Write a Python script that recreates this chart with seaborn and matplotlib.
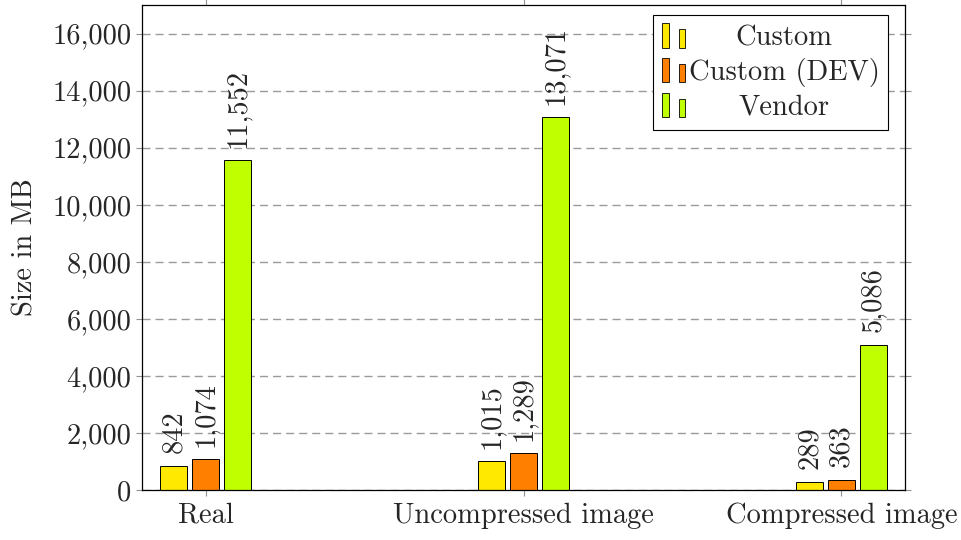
import matplotlib
matplotlib.use("Agg")
import matplotlib.pyplot as plt
from matplotlib.patches import Rectangle
from matplotlib.legend_handler import HandlerBase
from matplotlib.ticker import StrMethodFormatter, MultipleLocator
from matplotlib.transforms import Affine2D
import seaborn as sns
import pandas as pd

categories = ["Real", "Uncompressed image", "Compressed image"]
series_names = ["Custom", "Custom (DEV)", "Vendor"]
custom = [842, 1015, 289]
custom_dev = [1074, 1289, 363]
vendor = [11552, 13071, 5086]
colors = ["#FFE900", "#FF7F00", "#BFFF00"]

rows = []
for name, vals in zip(series_names, [custom, custom_dev, vendor]):
    for c, v in zip(categories, vals):
        rows.append({"category": c, "system": name, "size": v})
df = pd.DataFrame(rows)

sns.set_theme(style="ticks")
plt.rcParams["font.family"] = ["cmr10", "DejaVu Serif"]
plt.rcParams["axes.unicode_minus"] = False
plt.rcParams["axes.formatter.use_mathtext"] = True

FS = 20.5
fig = plt.figure(figsize=(9.61, 5.40), dpi=100)
ax = fig.add_axes([142 / 961, 1 - 490 / 540, (905 - 142) / 961, (490 - 5) / 540])

sns.barplot(data=df, x="category", y="size", hue="system", order=categories,
            hue_order=series_names, palette=colors, width=0.3, gap=0.15,
            edgecolor="black", linewidth=0.7, ax=ax, legend=True, saturation=1)

for cont in ax.containers:
    ax.bar_label(cont, labels=[f"{v:,.0f}" for v in cont.datavalues],
                 rotation=90, padding=9, fontsize=FS)

ax.set_xlim(-0.2, 2.2)
ax.set_ylim(0, 17000)
ax.yaxis.set_major_locator(MultipleLocator(2000))
ax.yaxis.set_major_formatter(StrMethodFormatter("{x:,.0f}"))
ax.set_xlabel("")
ax.set_ylabel("Size in MB", fontsize=FS, labelpad=10)
ax.yaxis.grid(True, linestyle=(0, (5.8, 3.6)), color="#9a9a9a", linewidth=1.0)
ax.set_axisbelow(True)
ax.tick_params(axis="both", labelsize=FS, direction="out", length=4,
               color="#909090", width=0.8)
ax.tick_params(axis="x", pad=5)
ax.tick_params(top=True, right=True)
for s in ax.spines.values():
    s.set_visible(True)
    s.set_color("black")
    s.set_linewidth(0.9)


class TwoBarHandler(HandlerBase):
    def create_artists(self, legend, orig_handle, xdescent, ydescent,
                       width, height, fontsize, trans):
        fc = orig_handle.get_facecolor()
        w = width * 0.29
        r1 = Rectangle((-xdescent, -ydescent), w, height, facecolor=fc,
                       edgecolor="black", linewidth=0.6, transform=trans)
        r2 = Rectangle((-xdescent + width * 0.71, -ydescent), w, height * 0.75,
                       facecolor=fc, edgecolor="black", linewidth=0.6, transform=trans)
        return [r1, r2]


handles, labels = ax.get_legend_handles_labels()
if ax.get_legend() is not None:
    ax.get_legend().remove()
leg = ax.legend(handles, labels, loc="upper right", bbox_to_anchor=(0.978, 0.98),
                borderaxespad=0, fontsize=FS, frameon=True, fancybox=False,
                framealpha=1, edgecolor="black", handlelength=0.82,
                handleheight=0.95, handletextpad=0.12, labelspacing=0.22,
                borderpad=0.3, handler_map={h: TwoBarHandler() for h in handles})
leg.get_frame().set_linewidth(0.8)

# centre the legend labels within the text column, as in the reference
renderer = fig.canvas.get_renderer()
texts = leg.get_texts()
widths = [t.get_window_extent(renderer).width for t in texts]
maxw = max(widths)
for t, w in zip(texts, widths):
    dx = (maxw - w) / 2
    if dx > 0:
        t.set_transform(Affine2D().translate(dx, 0) + t.get_transform())

fig.savefig("out.png", dpi=100)
